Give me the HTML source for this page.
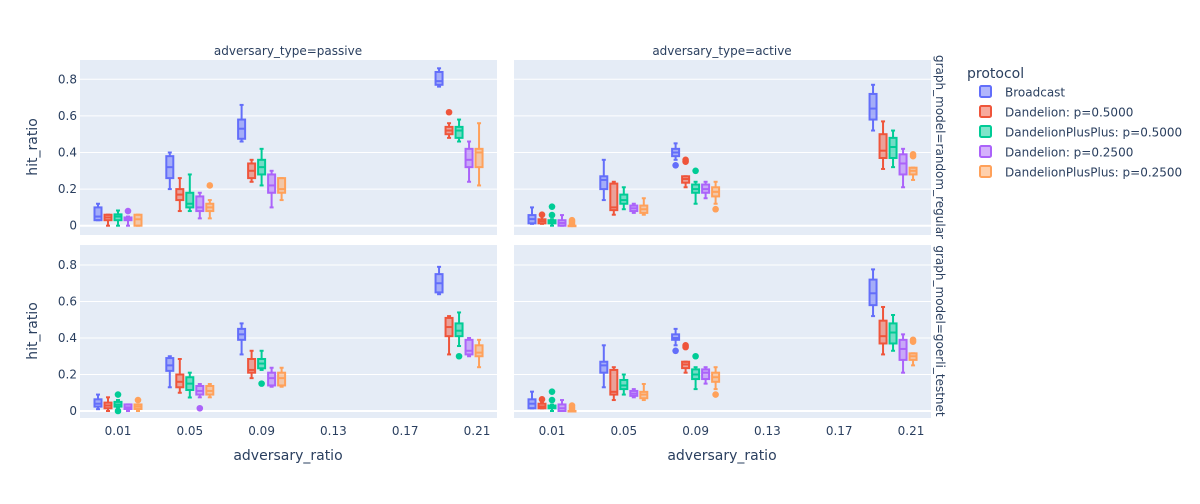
<!DOCTYPE html>
<html><head><meta charset="utf-8"><style>
body{margin:0;background:#fff;font-family:"DejaVu Sans","Liberation Sans",sans-serif;}
svg text{font-family:"DejaVu Sans","Liberation Sans",sans-serif;fill:#2a3f5f;}
</style></head><body>
<svg id="c" width="1200" height="500" xmlns="http://www.w3.org/2000/svg"></svg>
<script>
const protocols=["Broadcast","Dandelion: p=0.5000","DandelionPlusPlus: p=0.5000","Dandelion: p=0.2500","DandelionPlusPlus: p=0.2500"];
const colors=["#636efa","#EF553B","#00cc96","#ab63fa","#FFA15A"];
const ratios=[0.01,0.05,0.09,0.2];
const xTicks=[0.01,0.05,0.09,0.13,0.17,0.21];
const yTicks=[0,0.2,0.4,0.6,0.8];
// [min,q1,median,q3,max] per protocol per ratio
const statsPassiveRandom=[
 [[0.03,0.03,0.05,0.1,0.12],[0.2,0.26,0.32,0.38,0.4],[0.46,0.475,0.53,0.58,0.66],[0.76,0.77,0.79,0.84,0.86]],
 [[0,0.03,0.045,0.06,0.06],[0.08,0.14,0.17,0.2,0.26],[0.24,0.26,0.3,0.34,0.36],[0.48,0.5,0.52,0.54,0.56]],
 [[0,0.03,0.05,0.062,0.083],[0.08,0.1,0.12,0.18,0.28],[0.22,0.28,0.32,0.36,0.42],[0.46,0.48,0.52,0.54,0.58]],
 [[0,0.03,0.035,0.045,0.05],[0.04,0.08,0.1,0.16,0.18],[0.1,0.18,0.22,0.28,0.3],[0.24,0.32,0.36,0.42,0.46]],
 [[0,0,0.035,0.06,0.06],[0.04,0.08,0.1,0.12,0.14],[0.14,0.18,0.2,0.26,0.26],[0.22,0.32,0.4,0.42,0.56]]];
const outPassiveRandom=[[3,0,0.08],[4,1,0.22],[1,3,0.62]];
const statsActiveRandom=[
 [[0.01,0.013,0.036,0.058,0.1],[0.14,0.2,0.25,0.27,0.36],[0.36,0.38,0.4,0.42,0.45],[0.52,0.58,0.64,0.72,0.77]],
 [[0.01,0.013,0.025,0.035,0.05],[0.06,0.085,0.1,0.23,0.24],[0.21,0.235,0.255,0.27,0.27],[0.31,0.37,0.41,0.5,0.57]],
 [[0,0.013,0.02,0.03,0.035],[0.09,0.12,0.14,0.17,0.21],[0.12,0.18,0.2,0.225,0.24],[0.32,0.37,0.43,0.48,0.52]],
 [[0,0,0.015,0.03,0.058],[0.07,0.08,0.095,0.11,0.12],[0.15,0.18,0.2,0.225,0.24],[0.21,0.28,0.34,0.39,0.42]],
 [[0,0,0,0,0],[0.06,0.07,0.09,0.11,0.15],[0.12,0.16,0.185,0.21,0.24],[0.25,0.28,0.3,0.317,0.317]]];
const outActiveRandom=[[1,0,0.06],[2,0,0.104],[2,0,0.058],[4,0,0.01],[4,0,0.02],[4,0,0.03],[0,2,0.33],[1,2,0.35],[1,2,0.36],[2,2,0.3],[4,2,0.09],[4,3,0.38],[4,3,0.39]];
const statsPassiveGoerli=[
 [[0.01,0.024,0.04,0.064,0.09],[0.13,0.22,0.25,0.29,0.3],[0.31,0.39,0.42,0.45,0.48],[0.64,0.65,0.7,0.75,0.79]],
 [[0,0.015,0.03,0.046,0.075],[0.1,0.13,0.16,0.2,0.285],[0.18,0.21,0.225,0.285,0.33],[0.31,0.41,0.46,0.51,0.52]],
 [[0.02,0.024,0.035,0.05,0.06],[0.074,0.115,0.15,0.185,0.21],[0.225,0.234,0.26,0.285,0.33],[0.356,0.41,0.44,0.48,0.54]],
 [[0,0.011,0.02,0.036,0.036],[0.075,0.09,0.11,0.137,0.148],[0.133,0.14,0.18,0.21,0.237],[0.3,0.31,0.33,0.39,0.4]],
 [[0,0.011,0.024,0.036,0.036],[0.075,0.09,0.11,0.137,0.148],[0.133,0.14,0.18,0.21,0.237],[0.24,0.3,0.32,0.36,0.39]]];
const outPassiveGoerli=[[2,0,0.09],[2,0,0],[4,0,0.06],[3,1,0.015],[2,2,0.15],[2,3,0.3]];
const statsActiveGoerli=[
 [[0.015,0.015,0.04,0.064,0.106],[0.13,0.21,0.25,0.27,0.36],[0.36,0.39,0.4,0.42,0.45],[0.52,0.58,0.645,0.72,0.776]],
 [[0.015,0.015,0.025,0.04,0.05],[0.06,0.09,0.105,0.225,0.24],[0.21,0.235,0.255,0.27,0.27],[0.31,0.37,0.41,0.495,0.57]],
 [[0,0.015,0.02,0.03,0.035],[0.09,0.12,0.14,0.17,0.2],[0.12,0.175,0.2,0.228,0.24],[0.33,0.37,0.43,0.48,0.526]],
 [[0,0,0.015,0.036,0.06],[0.075,0.083,0.095,0.11,0.12],[0.15,0.175,0.21,0.228,0.24],[0.21,0.28,0.34,0.39,0.42]],
 [[0,0,0,0,0],[0.06,0.07,0.09,0.105,0.148],[0.12,0.16,0.185,0.21,0.24],[0.25,0.28,0.3,0.316,0.316]]];
const outActiveGoerli=[[1,0,0.064],[2,0,0.106],[2,0,0.06],[4,0,0.01],[4,0,0.02],[4,0,0.03],[0,2,0.33],[1,2,0.35],[1,2,0.36],[2,2,0.3],[4,2,0.09],[4,3,0.38],[4,3,0.39]];

const NS="http://www.w3.org/2000/svg";
const svg=document.getElementById('c');
function mk(tag,attrs,parent){const e=document.createElementNS(NS,tag);for(const k in attrs)e.setAttribute(k,attrs[k]);(parent||svg).appendChild(e);return e;}
const panels=[
 {x0:80,x1:497,y0:60,y1:235,zero:225.7,ppu:183,stats:statsPassiveRandom,out:outPassiveRandom,name:'panel-passive-random'},
 {x0:514,x1:931,y0:60,y1:235,zero:225.7,ppu:183,stats:statsActiveRandom,out:outActiveRandom,name:'panel-active-random'},
 {x0:80,x1:497,y0:245,y1:418,zero:411,ppu:182.5,stats:statsPassiveGoerli,out:outPassiveGoerli,name:'panel-passive-goerli'},
 {x0:514,x1:931,y0:245,y1:418,zero:411,ppu:182.5,stats:statsActiveGoerli,out:outActiveGoerli,name:'panel-active-goerli'}];
panels.forEach((p,pi)=>{
 const xs=v=>p.x0+38+(v-0.01)*1795;
 const ys=v=>p.zero-v*p.ppu;
 const g=mk('g',{});
 
 
 const bg=mk('rect',{x:p.x0,y:p.y0,width:p.x1-p.x0,height:p.y1-p.y0,fill:'#e5ecf6'},g);
 
 
 yTicks.forEach(t=>{
  const l=mk('line',{x1:p.x0,x2:p.x1,y1:ys(t),y2:ys(t),stroke:'#fff','stroke-width':t===0?2:1},g);
  
  
  if(pi%2===0){
   const tx=mk('text',{x:p.x0-3,y:ys(t)+4,'text-anchor':'end','font-size':12},g);
   tx.textContent=t===0?'0':t.toFixed(1);
   
   
  }
 });
 if(pi>=2){
  xTicks.forEach(t=>{
   const tx=mk('text',{x:xs(t),y:p.y1+17,'text-anchor':'middle','font-size':12},g);
   tx.textContent=String(t);
   
   
  });
 }
 p.stats.forEach((series,si)=>{
  series.forEach((s,gi)=>{
   const cx=xs(ratios[gi])+(si-2)*10;
   const bx=mk('g',{},g);
   
   
   const c=colors[si];
   mk('line',{x1:cx,x2:cx,y1:ys(s[0]),y2:ys(s[1]),stroke:c,'stroke-width':2},bx);
   mk('line',{x1:cx,x2:cx,y1:ys(s[3]),y2:ys(s[4]),stroke:c,'stroke-width':2},bx);
   mk('line',{x1:cx-2,x2:cx+2,y1:ys(s[0]),y2:ys(s[0]),stroke:c,'stroke-width':2},bx);
   mk('line',{x1:cx-2,x2:cx+2,y1:ys(s[4]),y2:ys(s[4]),stroke:c,'stroke-width':2},bx);
   mk('rect',{x:cx-3.5,y:ys(s[3]),width:7,height:Math.max(ys(s[1])-ys(s[3]),0.5),fill:c,'fill-opacity':0.5,stroke:c,'stroke-width':2},bx);
   mk('line',{x1:cx-3.5,x2:cx+3.5,y1:ys(s[2]),y2:ys(s[2]),stroke:c,'stroke-width':2},bx);
  });
 });
 p.out.forEach(o=>{
  const cx=xs(ratios[o[1]])+(o[0]-2)*10;
  const d=mk('circle',{cx:cx,cy:ys(o[2]),r:3.3,fill:colors[o[0]]},g);
  
  
 });
});
function txt(x,y,s,size,name,rot){const t=mk('text',{x:x,y:y,'font-size':size,'text-anchor':'middle'});if(rot)t.setAttribute('transform','rotate('+rot+' '+x+' '+y+')');t.textContent=s;return t;}
txt(288,55,'adversary_type=passive',12,'facet-title-passive');
txt(722,55,'adversary_type=active',12,'facet-title-active');
txt(936,147,'graph_model=random_regular',12,'facet-row-title-random',90);
txt(936,331,'graph_model=goerli_testnet',12,'facet-row-title-goerli',90);
txt(37,147,'hit_ratio',14,'y-axis-title-top',-90);
txt(37,331,'hit_ratio',14,'y-axis-title-bottom',-90);
txt(288,460,'adversary_ratio',14,'x-axis-title-left');
txt(722,460,'adversary_ratio',14,'x-axis-title-right');
const lt=mk('text',{x:967,y:78,'font-size':14});lt.textContent='protocol';


protocols.forEach((name,i)=>{
 const y=92+i*20;
 const g=mk('g',{});
 
 
 mk('rect',{x:980,y:y-6,width:11,height:11,rx:1.5,fill:colors[i],'fill-opacity':0.5,stroke:colors[i],'stroke-width':2},g);
 const t=mk('text',{x:1005,y:y+4.5,'font-size':12},g);t.textContent=name;
});
</script>
</body></html>
